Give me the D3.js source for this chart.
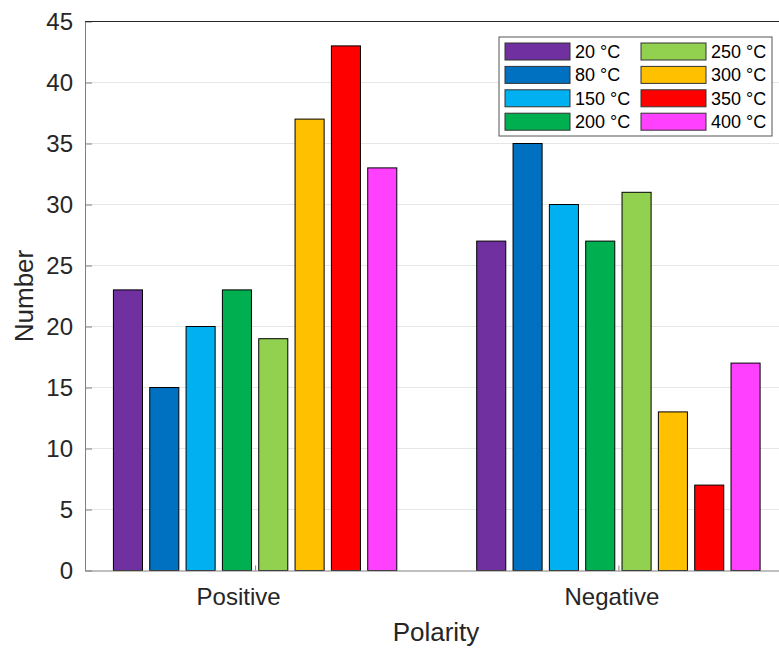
<!DOCTYPE html>
<html><head><meta charset="utf-8">
<script src="https://cdn.jsdelivr.net/npm/d3@7"></script>
<style>body{margin:0;background:#fff;} text{font-family:"Liberation Sans",Arial,sans-serif;}</style>
</head><body>
<svg id="c" width="779" height="649"></svg>
<script>
const categories = ["Positive", "Negative"];
const seriesNames = ["20 °C","80 °C","150 °C","200 °C","250 °C","300 °C","350 °C","400 °C"];
const positiveValues = [23, 15, 20, 23, 19, 37, 43, 33];
const negativeValues = [27, 35, 30, 27, 31, 13, 7, 17];
const colors = ["#7030A0","#0070C0","#00B0F0","#00B050","#92D050","#FFC000","#FF0000","#FF40FF"];
const yTicks = [0,5,10,15,20,25,30,35,40,45];

const values = [positiveValues, negativeValues];
const svg = d3.select("#c");
const L = 85, R = 788.5, T = 21.5, B = 570.5;
const x = d3.scaleLinear().domain([0.5318, 2.4682]).range([L, R]);
const y = d3.scaleLinear().domain([0, 45]).range([B, T]);
const groupW = 0.8, slot = groupW / seriesNames.length, barW = slot * 0.8;

// grid
svg.append("g").selectAll("line").data(yTicks.filter(d=>d>0)).join("line")
  .attr("x1", L).attr("x2", R).attr("y1", d=>y(d)).attr("y2", d=>y(d))
  .attr("stroke", "#e6e6e6").attr("stroke-width", 1);

// bars
categories.forEach((c, ci) => {
  svg.append("g").selectAll("rect").data(values[ci]).join("rect")
    .attr("x", (d,i) => x(ci + 1 - groupW/2 + slot*i + (slot-barW)/2))
    .attr("width", x(1+barW) - x(1))
    .attr("y", d => y(d)).attr("height", d => y(0) - y(d))
    .attr("fill", (d,i) => colors[i]).attr("stroke", "#000").attr("stroke-width", 1);
});

// axes
const yAxis = d3.axisLeft(y).tickValues(yTicks).tickSizeInner(-7).tickSizeOuter(0).tickPadding(12);
const gy = svg.append("g").attr("transform", `translate(${L},0)`).call(yAxis);
gy.select(".domain").attr("stroke", "#808080");
gy.selectAll(".tick line").attr("stroke", "#808080");
gy.selectAll("text").attr("font-size", 24).attr("fill", "#262626").attr("dy", "0.35em");

const xAxis = d3.axisBottom(x).tickValues([1,2]).tickFormat((d,i)=>categories[i]).tickSizeInner(-5).tickSizeOuter(0).tickPadding(14);
const gx = svg.append("g").attr("transform", `translate(0,${B})`).call(xAxis);
gx.select(".domain").attr("stroke", "#808080");
gx.selectAll(".tick line").attr("stroke", "#808080");
const labelShift = [-17, -7];
gx.selectAll("text").attr("font-size", 24).attr("fill", "#262626")
  .attr("dy", null).attr("y", 34).attr("dx", (d,i)=>labelShift[i]);

// top border
svg.append("line").attr("x1", L).attr("x2", R).attr("y1", T).attr("y2", T).attr("stroke", "#262626");

// labels
svg.append("text").attr("x", 436).attr("y", 641).attr("text-anchor", "middle")
  .attr("font-size", 26).attr("fill", "#262626").text("Polarity");
svg.append("text").attr("transform", "translate(33,296) rotate(-90)").attr("text-anchor", "middle")
  .attr("font-size", 26).attr("fill", "#262626").text("Number");

// legend
const lg = svg.append("g").attr("transform", "translate(499,37)");
lg.append("rect").attr("width", 273).attr("height", 99).attr("fill", "#fff").attr("stroke", "#555").attr("stroke-width", 1);
seriesNames.forEach((n, i) => {
  const col = Math.floor(i / 4), row = i % 4;
  const gx0 = 6 + col * 136, gy0 = 6 + row * 23.4;
  lg.append("rect").attr("x", gx0).attr("y", gy0).attr("width", 65).attr("height", 17)
    .attr("fill", colors[i]).attr("stroke", "#333").attr("stroke-width", 1);
  lg.append("text").attr("x", gx0 + 70).attr("y", gy0 + 15).attr("font-size", 18).attr("fill", "#000").text(n);
});
</script>
</body></html>
